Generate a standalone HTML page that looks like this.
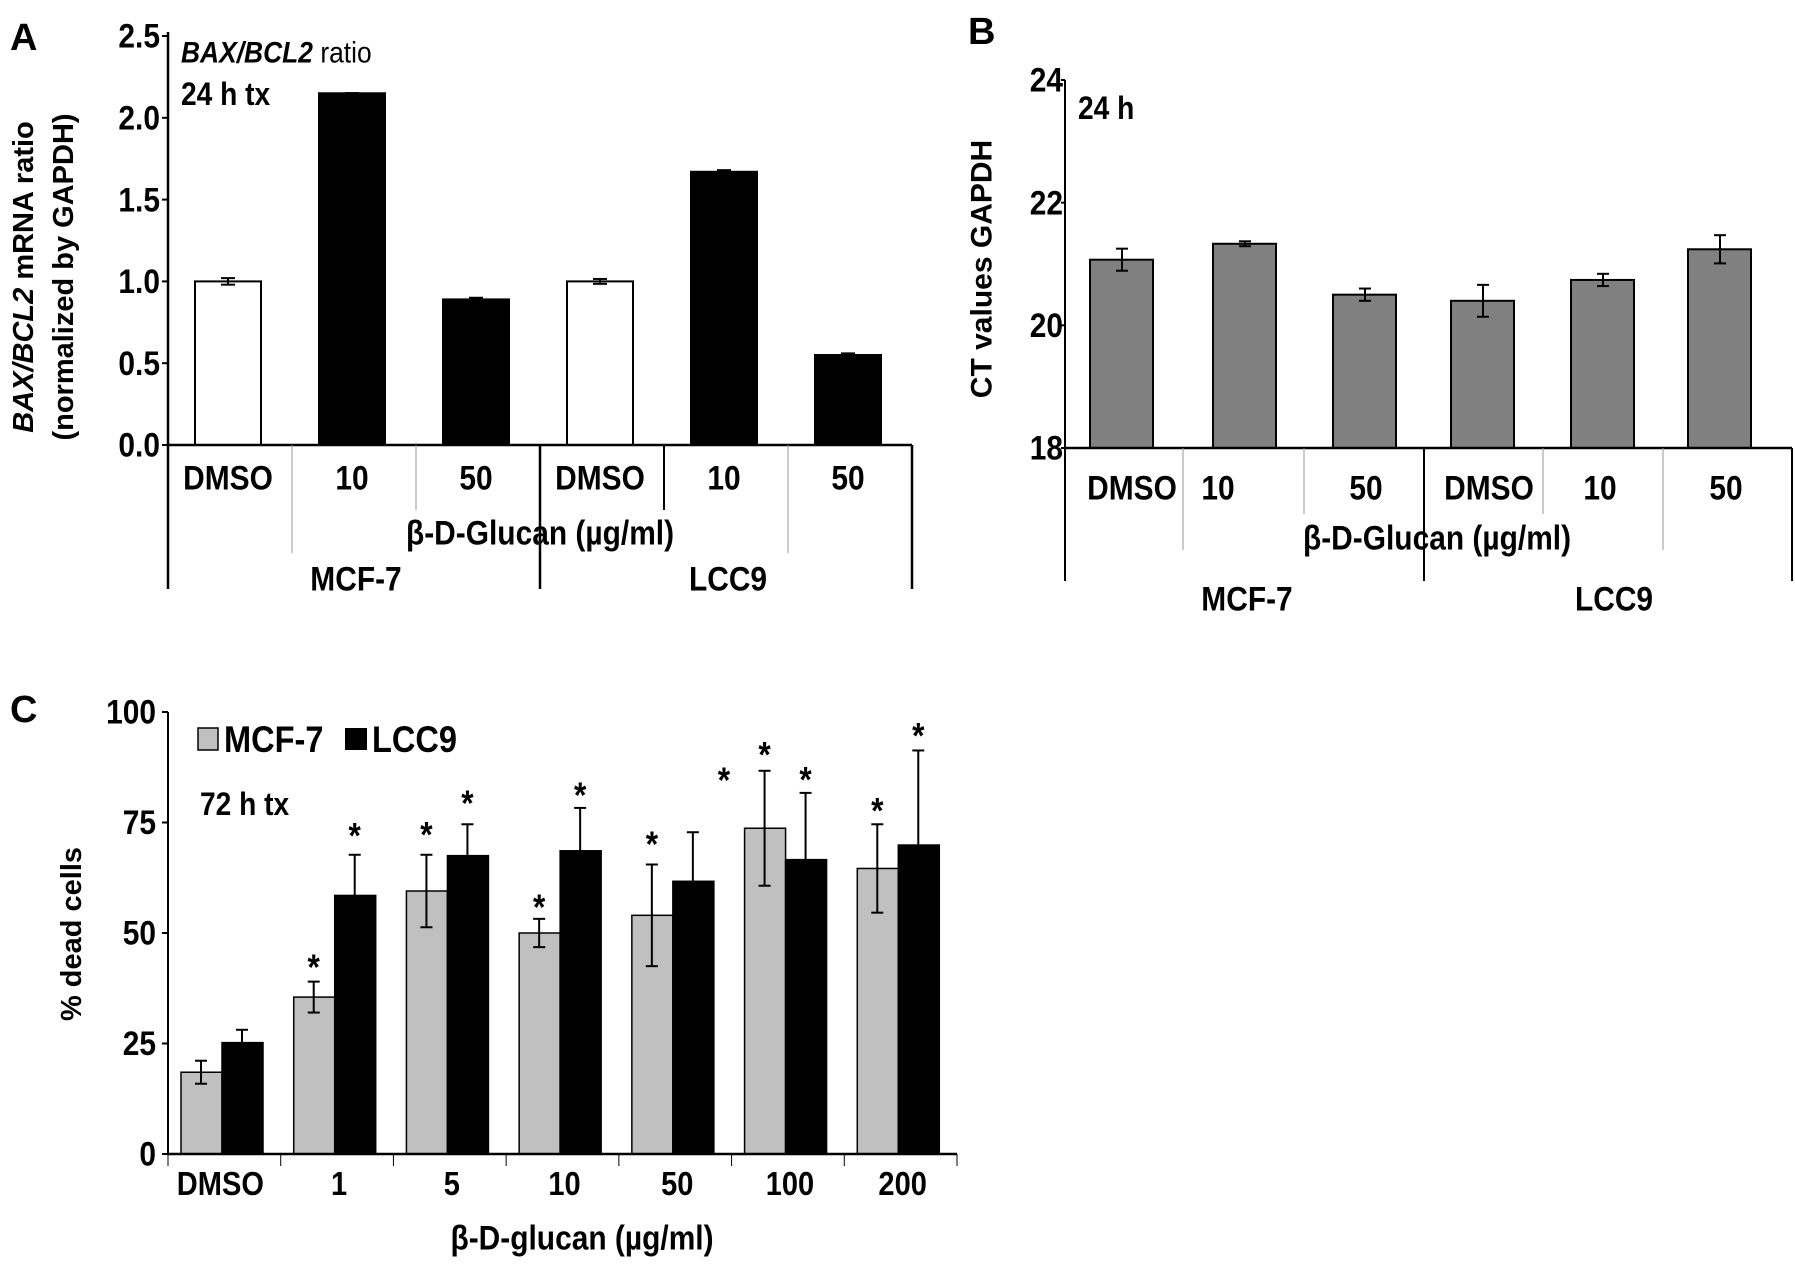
<!DOCTYPE html>
<html><head><meta charset="utf-8"><style>
html,body{margin:0;padding:0;background:#fff;}
svg{display:block;}
.n{font-family:"Liberation Sans",sans-serif;font-weight:bold;}
.w{font-family:"Liberation Sans",sans-serif;font-weight:bold;}
</style></head><body>
<svg id="fig" width="1795" height="1265" viewBox="0 0 1795 1265" xmlns="http://www.w3.org/2000/svg"></svg>
<script>
// Panel A data
const aCats = ["DMSO","10","50","DMSO","10","50"];
const aVals = [1.0, 2.15, 0.89, 1.0, 1.67, 0.55];
const aErrs = [0.02, 0.0, 0.01, 0.015, 0.01, 0.01];
const aFill = ["#fff","#000","#000","#fff","#000","#000"];
const aTicks = [0.0, 0.5, 1.0, 1.5, 2.0, 2.5];
const aTickLabels = ["0.0","0.5","1.0","1.5","2.0","2.5"];
// Panel B data
const bCats = ["DMSO","10","50","DMSO","10","50"];
const bVals = [21.07, 21.33, 20.5, 20.4, 20.74, 21.24];
const bErrs = [0.18, 0.04, 0.1, 0.26, 0.1, 0.23];
const bTicks = [18, 20, 22, 24];
// Panel C data
const cCats = ["DMSO","1","5","10","50","100","200"];
const cMcf = [18.5, 35.5, 59.5, 50, 54, 73.7, 64.6];
const cMcfErr = [2.6, 3.5, 8.2, 3.2, 11.5, 13, 10];
const cLcc = [25.2, 58.5, 67.5, 68.6, 61.7, 66.6, 69.9];
const cLccErr = [2.9, 9.2, 7.1, 9.7, 11.1, 15.1, 21.4];
const cStarMcf = [null, 43.5, 73.5, 57, 71.3, 91.6, 78.9];
const cStarLcc = [null, 73.2, 80.6, 82.4, 85.8, 85.9, 95.8];
const cTicks = [0, 25, 50, 75, 100];

const NS = "http://www.w3.org/2000/svg";
const svg = document.getElementById("fig");
const SX = 0.88;
function el(tag, attrs, parent){
  const e = document.createElementNS(NS, tag);
  for (const k in attrs) e.setAttribute(k, attrs[k]);
  (parent||svg).appendChild(e);
  return e;
}
function line(x1,y1,x2,y2,stroke,sw,name){
  const e = el("line",{x1:x1,y1:y1,x2:x2,y2:y2,stroke:stroke,"stroke-width":sw});
  
  
  return e;
}
function text(x,y,s,size,cls,anchor,name,extra){
  const attrs = {"font-size":size,"class":cls,"text-anchor":anchor||"start","dominant-baseline":"central"};
  if (cls==="n" && !(extra && extra.transform)) { attrs.x=0; attrs.y=0; attrs.transform="translate("+x+","+y+") scale("+SX+",1)"; }
  else { attrs.x=x; attrs.y=y; }
  const e = el("text",attrs);
  if (extra) for (const k in extra) e.setAttribute(k, extra[k]);
  e.textContent = s;
  
  
  return e;
}
function errbar(cx,yTop,yBot,cap,name){
  const g = el("g",{});
  
  
  el("line",{x1:cx,y1:yTop,x2:cx,y2:yBot,stroke:"#000","stroke-width":2},g);
  el("line",{x1:cx-cap,y1:yTop,x2:cx+cap,y2:yTop,stroke:"#000","stroke-width":2},g);
  el("line",{x1:cx-cap,y1:yBot,x2:cx+cap,y2:yBot,stroke:"#000","stroke-width":2},g);
}

// ---------- Panel A ----------
(function(){
  const x0=168, x1=912, yb=445, yt=36;
  const ya = v => yb - (v-0)/(2.5)*(yb-yt);
  const gw = (x1-x0)/aCats.length;
  text(10,38,"A",38,"w","start","panel-a-label");
  aVals.forEach((v,i)=>{
    const cx = x0 + gw*(i+0.5) - 2;
    const r = el("rect",{x:cx-33,y:ya(v),width:66,height:yb-ya(v),fill:aFill[i],stroke:"#000","stroke-width":2});
    
    
    errbar(cx, ya(v+aErrs[i]), ya(v-aErrs[i]), 7, 'error-bar-a-'+i);
    text(cx,478,aCats[i],34,"n","middle","category-label-a-"+i);
  });
  line(x0,yt-4,x0,589,"#000",2.5,"y-axis-a");
  line(x0,yb,x1,yb,"#000",2.5,"x-axis-a");
  line(x1,yb,x1,589,"#000",2.5,"right-border-a");
  aTicks.forEach((t,i)=>{
    line(x0-6,ya(t),x0,ya(t),"#000",2,"y-tick-a-"+i);
    text(x0-8,ya(t),aTickLabels[i],34,"n","end","y-tick-label-a-"+i);
  });
  const seps=[[1,553,"#999",1],[2,510,"#999",1],[3,589,"#000",2.5],[4,510,"#000",2],[5,553,"#999",1]];
  seps.forEach((s,i)=>line(x0+gw*s[0],yb,x0+gw*s[0],s[1],s[2],s[3],"separator-a-"+i));
  text(540,533,"β-D-Glucan (µg/ml)",34,"n","middle","x-axis-title-a");
  text(356,579,"MCF-7",34,"n","middle","group-label-mcf7-a");
  text(728,579,"LCC9",34,"n","middle","group-label-lcc9-a");
  const t = text(0,0,"",30,"n","start","ratio-annotation-a",{transform:"translate(181,52) scale("+SX+",1)"});
  const ti = el("tspan",{"font-style":"italic"},t); ti.textContent="BAX/BCL2";
  const tr = el("tspan",{"font-weight":"normal"},t); tr.textContent=" ratio";
  text(181,95,"24 h tx",32,"n","start","time-annotation-a");
  const yt1 = text(0,0,"",29,"w","middle","y-axis-title-a",{transform:"translate(24,277) rotate(-90)"});
  const yi = el("tspan",{"font-style":"italic"},yt1); yi.textContent="BAX/BCL2";
  const yr = el("tspan",{},yt1); yr.textContent=" mRNA ratio";
  text(0,0,"(normalized by GAPDH)",29,"w","middle","y-axis-subtitle-a",{transform:"translate(64,277) rotate(-90)"});
})();

// ---------- Panel B ----------
(function(){
  const x0=1065, x1=1792, yb=448, yt=80;
  const yb_ = v => yb - (v-18)/6*(yb-yt);
  const centers=[1122,1245,1365,1483,1603,1720];
  const labX=[1132,1218,1366,1489,1600,1726];
  text(968,32,"B",38,"w","start","panel-b-label");
  bVals.forEach((v,i)=>{
    const cx=centers[i];
    const r = el("rect",{x:cx-32,y:yb_(v),width:63,height:yb-yb_(v),fill:"#808080",stroke:"#000","stroke-width":2});
    
    
    errbar(cx, yb_(v+bErrs[i]), yb_(v-bErrs[i]), 6, 'error-bar-b-'+i);
    text(labX[i],488,bCats[i],34,"n","middle","category-label-b-"+i);
  });
  line(x0,yt,x0,581,"#000",2,"y-axis-b");
  line(x0,yb,x1,yb,"#000",2.5,"x-axis-b");
  line(x1,yb,x1,581,"#000",2,"right-border-b");
  bTicks.forEach((t,i)=>{
    line(x0-4,yb_(t),x0,yb_(t),"#000",2,"y-tick-b-"+i);
    text(x0-2,yb_(t),String(t),34,"n","end","y-tick-label-b-"+i);
  });
  const seps=[[1183,550,"#999",1],[1304,514,"#999",1],[1424,581,"#000",2],[1543,514,"#999",1],[1663,550,"#999",1]];
  seps.forEach((s,i)=>line(s[0],yb,s[0],s[1],s[2],s[3],"separator-b-"+i));
  text(1437,538,"β-D-Glucan (µg/ml)",34,"n","middle","x-axis-title-b");
  text(1247,599,"MCF-7",34,"n","middle","group-label-mcf7-b");
  text(1614,599,"LCC9",34,"n","middle","group-label-lcc9-b");
  text(1078,109,"24 h",32,"n","start","time-annotation-b");
  text(0,0,"CT values GAPDH",30,"w","middle","y-axis-title-b",{transform:"translate(982,269) rotate(-90)"});
})();

// ---------- Panel C ----------
(function(){
  const x0=168, x1=957, yb=1154, yt=712;
  const yc = v => yb - v/100*(yb-yt);
  const gw=(x1-x0)/cCats.length;
  text(10,710,"C",38,"w","start","panel-c-label");
  cCats.forEach((c,i)=>{
    const gs=x0+gw*i;
    const gx=gs+13, bx=gs+54;
    const r1 = el("rect",{x:gx,y:yc(cMcf[i]),width:41,height:yb-yc(cMcf[i]),fill:"#c0c0c0",stroke:"#000","stroke-width":1.5});
    
    
    const r2 = el("rect",{x:bx,y:yc(cLcc[i]),width:41,height:yb-yc(cLcc[i]),fill:"#000",stroke:"#000","stroke-width":1.5});
    
    
    errbar(gx+20, yc(cMcf[i]+cMcfErr[i]), yc(cMcf[i]-cMcfErr[i]), 6, 'error-bar-mcf7-'+c);
    errbar(bx+20, yc(cLcc[i]+cLccErr[i]), yc(cLcc[i]-cLccErr[i]), 6, 'error-bar-lcc9-'+c);
    if (cStarMcf[i]!==null) text(gx+20, yc(cStarMcf[i])+6, "*", 36, "n","middle","star-mcf7-"+c);
    if (cStarLcc[i]!==null) text(bx+20+(i===4?31:0), yc(cStarLcc[i])+6, "*", 36, "n","middle","star-lcc9-"+c);
    text(gs+gw/2+(i===0?-4:2),1184,c,33,"n","middle","category-label-c-"+i);
    line(gs,yb,gs,yb+12,"#000",1,"x-tick-c-"+i);
  });
  line(x1,yb,x1,yb+12,"#000",1,"x-tick-c-end");
  line(x0,yt,x0,yb,"#000",2,"y-axis-c");
  line(x0,yb,x1,yb,"#000",2.5,"x-axis-c");
  cTicks.forEach((t,i)=>{
    line(x0-6,yc(t),x0,yc(t),"#000",2,"y-tick-c-"+i);
    text(x0-12,yc(t),String(t),34,"n","end","y-tick-label-c-"+i);
  });
  text(582,1238,"β-D-glucan (µg/ml)",34,"n","middle","x-axis-title-c");
  const l1 = el("rect",{x:198,y:728,width:20,height:22,fill:"#c0c0c0",stroke:"#000","stroke-width":1.5});
  
  
  text(224,740,"MCF-7",37,"n","start","legend-label-mcf7");
  const l2 = el("rect",{x:345,y:728,width:22,height:22,fill:"#000"});
  
  
  text(372,740,"LCC9",37,"n","start","legend-label-lcc9");
  text(200,805,"72 h tx",32,"n","start","time-annotation-c");
  text(0,0,"% dead cells",29,"w","middle","y-axis-title-c",{transform:"translate(72,934) rotate(-90)"});
})();
</script>
</body></html>
